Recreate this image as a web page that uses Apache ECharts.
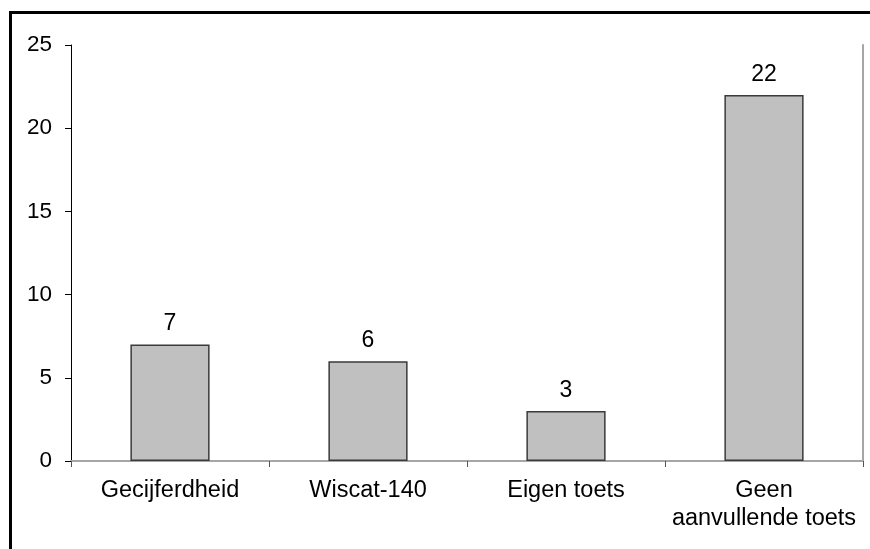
<!DOCTYPE html>
<html>
<head>
<meta charset="utf-8">
<script src="https://cdn.jsdelivr.net/npm/echarts@6/dist/echarts.min.js"></script>
<style>
  html, body { margin: 0; padding: 0; background: #fff; }
  #chart { width: 870px; height: 549px; }
</style>
</head>
<body>
<div id="chart"></div>
<script>
// data
const categories = ['Gecijferdheid', 'Wiscat-140', 'Eigen toets', 'Geen\naanvullende toets'];
const counts = [7, 6, 3, 22];
const yTicks = [0, 5, 10, 15, 20, 25];

const font = 'Liberation Sans, Arial, sans-serif';
const chart = echarts.init(document.getElementById('chart'));

chart.setOption({
  animation: false,
  backgroundColor: '#fff',
  grid: { left: 71, right: 7, top: 45, bottom: 88 },
  // outer frame, only top and left edges are visible in the original
  graphic: [
    {
      type: 'polyline',
      shape: { points: [[10.5, 549], [10.5, 12.5], [870, 12.5]] },
      style: { stroke: '#000', lineWidth: 3, fill: null }
    }
  ],
  xAxis: [
    {
      type: 'category',
      data: categories,
      axisLine: { lineStyle: { color: '#000', width: 1 } },
      axisTick: { show: true, length: 6, lineStyle: { color: '#555' } },
      axisLabel: {
        color: '#000',
        fontFamily: font,
        fontSize: 23.5,
        lineHeight: 28,
        margin: 16,
        interval: 0
      }
    },
    {
      // gray top edge of the plot area
      type: 'category',
      position: 'top',
      data: categories,
      axisLine: { lineStyle: { color: '#a6a6a6', width: 2 } },
      axisTick: { show: false },
      axisLabel: { show: false }
    }
  ],
  yAxis: [
    {
      type: 'value',
      min: yTicks[0],
      max: yTicks[yTicks.length - 1],
      interval: 5,
      splitLine: { show: false },
      axisLine: { show: true, lineStyle: { color: '#000', width: 1 } },
      axisTick: { show: true, length: 6, lineStyle: { color: '#000' } },
      axisLabel: {
        color: '#000',
        fontFamily: font,
        fontSize: 22.5,
        margin: 19
      }
    },
    {
      // gray right edge of the plot area
      type: 'value',
      position: 'right',
      min: yTicks[0],
      max: yTicks[yTicks.length - 1],
      splitLine: { show: false },
      axisLine: { show: true, lineStyle: { color: '#a6a6a6', width: 2 } },
      axisTick: { show: false },
      axisLabel: { show: false }
    }
  ],
  series: [
    {
      type: 'bar',
      data: counts,
      barWidth: '40%',
      itemStyle: {
        color: '#c0c0c0',
        borderColor: '#3a3a3a',
        borderWidth: 1.5
      },
      label: {
        show: true,
        position: 'top',
        distance: 9,
        color: '#000',
        fontFamily: font,
        fontSize: 23
      }
    }
  ]
});
</script>
</body>
</html>
